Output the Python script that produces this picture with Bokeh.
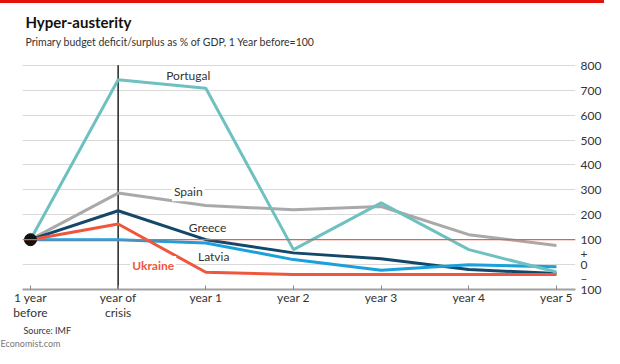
from bokeh.plotting import figure
from bokeh.models import Label, Span, FixedTicker, LinearAxis, Range1d, Title, Spacer
from bokeh.layouts import column
from bokeh.embed import file_html
from bokeh.resources import INLINE

periods = ["1 year\nbefore", "year of\ncrisis", "year 1", "year 2", "year 3", "year 4", "year 5"]
xs = [0, 1, 2, 3, 4, 5, 6]
portugal = [100, 742, 708, 60, 248, 60, -30]
spain = [100, 287, 237, 220, 233, 120, 77]
greece = [100, 216, 100, 47, 23, -20, -36]
latvia = [100, 100, 87, 20, -23, -1, -9]
ukraine = [100, 163, -31, -40, -40, -40, -40]
y_ticks = [-100, -56, 0, 44, 100, 200, 300, 400, 500, 600, 700, 800]
y_tick_labels = {-100: "100", -56: "\u2013", 0: "0", 44: "+", 100: "100"}
grid_ticks = [0, 200, 300, 400, 500, 600, 700, 800]

FONT = "Lato"
TXT = "#333333"
W, H = 604, 348
BAR = 3

p = figure(width=W, height=H - BAR, output_backend="svg", toolbar_location=None,
           x_range=Range1d(-0.091, 6.217), y_range=Range1d(-100, 1048),
           y_axis_location=None, min_border_left=22, min_border_right=29,
           min_border_top=0, min_border_bottom=58)
p.outline_line_color = None
p.background_fill_color = "white"

# notes below the axis
p.add_layout(Title(text="Source: IMF", text_font=FONT, text_font_size="9px",
                   text_font_style="normal", text_color=TXT, align="left", offset=1,
                   standoff=0), "below")
p.add_layout(Title(text="Economist.com", text_font=FONT, text_font_size="9px",
                   text_font_style="normal", text_color="#777777", align="left", offset=-22,
                   standoff=0), "below")

# grid
p.xgrid.visible = False
p.ygrid.ticker = FixedTicker(ticks=grid_ticks)
p.ygrid.grid_line_color = "#d9d9d9"
p.ygrid.grid_line_width = 1.2

# bottom axis
xa = p.xaxis[0]
xa.ticker = FixedTicker(ticks=xs)
xa.major_label_overrides = {i: lab for i, lab in zip(xs, periods)}
xa.axis_line_color = "#a0a0a0"
xa.axis_line_width = 2
xa.major_tick_in = 4
xa.major_tick_out = 0
xa.major_tick_line_color = "#888888"
xa.minor_tick_line_color = None
xa.major_label_text_font = FONT
xa.major_label_text_font_size = "12px"
xa.major_label_text_line_height = 1.0
xa.major_label_text_color = TXT
xa.major_label_standoff = 0

# right axis
ra = LinearAxis(ticker=FixedTicker(ticks=y_ticks))
ra.major_label_overrides = y_tick_labels
ra.axis_line_color = None
ra.major_tick_in = 0
ra.major_tick_out = 0
ra.minor_tick_line_color = None
ra.major_label_text_font = FONT
ra.major_label_text_font_size = "12px"
ra.major_label_text_color = TXT
ra.major_label_standoff = 5
p.add_layout(ra, "right")

# reference lines
p.add_layout(Span(location=100, dimension="width", line_color="#f25a4a", line_width=1.3))
p.segment(x0=[xs[1]], x1=[xs[1]], y0=[min(y_ticks)], y1=[max(y_ticks)],
          line_color="#222222", line_width=1.5)

# series
p.line(xs, spain, line_color="#a9a9a9", line_width=3)
p.line(xs, greece, line_color="#14486a", line_width=3)
p.line(xs, latvia, line_color="#1aa0dc", line_width=3)
p.line(xs, ukraine, line_color="#f0563c", line_width=3)
p.line(xs, portugal, line_color="#6fc0c0", line_width=3)
p.scatter([xs[0]], [100], size=12, color="#111111")

def label(x, y, text, size="12px", color=TXT, bold=False, bg=None, align="center"):
    p.add_layout(Label(x=x, y=y, text=text, text_font=FONT, text_font_size=size,
                       text_font_style="bold" if bold else "normal", text_color=color,
                       text_align=align, text_baseline="middle",
                       background_fill_color=bg, padding=2))

label(1.80, 760, "Portugal")
label(1.80, 292, "Spain", bg="white")
label(2.02, 150, "Greece")
label(2.09, 32, "Latvia")
label(1.40, -4, "Ukraine", color="#f0563c", bold=True, bg="white")

# title and subtitle
label(-0.08, 972, "Hyper-austerity", size="15px", color="#111111", bold=True, align="left")
label(-0.08, 892, "Primary budget deficit/surplus as % of GDP, 1 Year before=100",
      size="10.5px", align="left")

bar = Spacer(width=W, height=BAR, styles={"background-color": "#e3120b"})
layout = column(bar, p, spacing=0)

open("out.html", "w").write(file_html(layout, INLINE))
